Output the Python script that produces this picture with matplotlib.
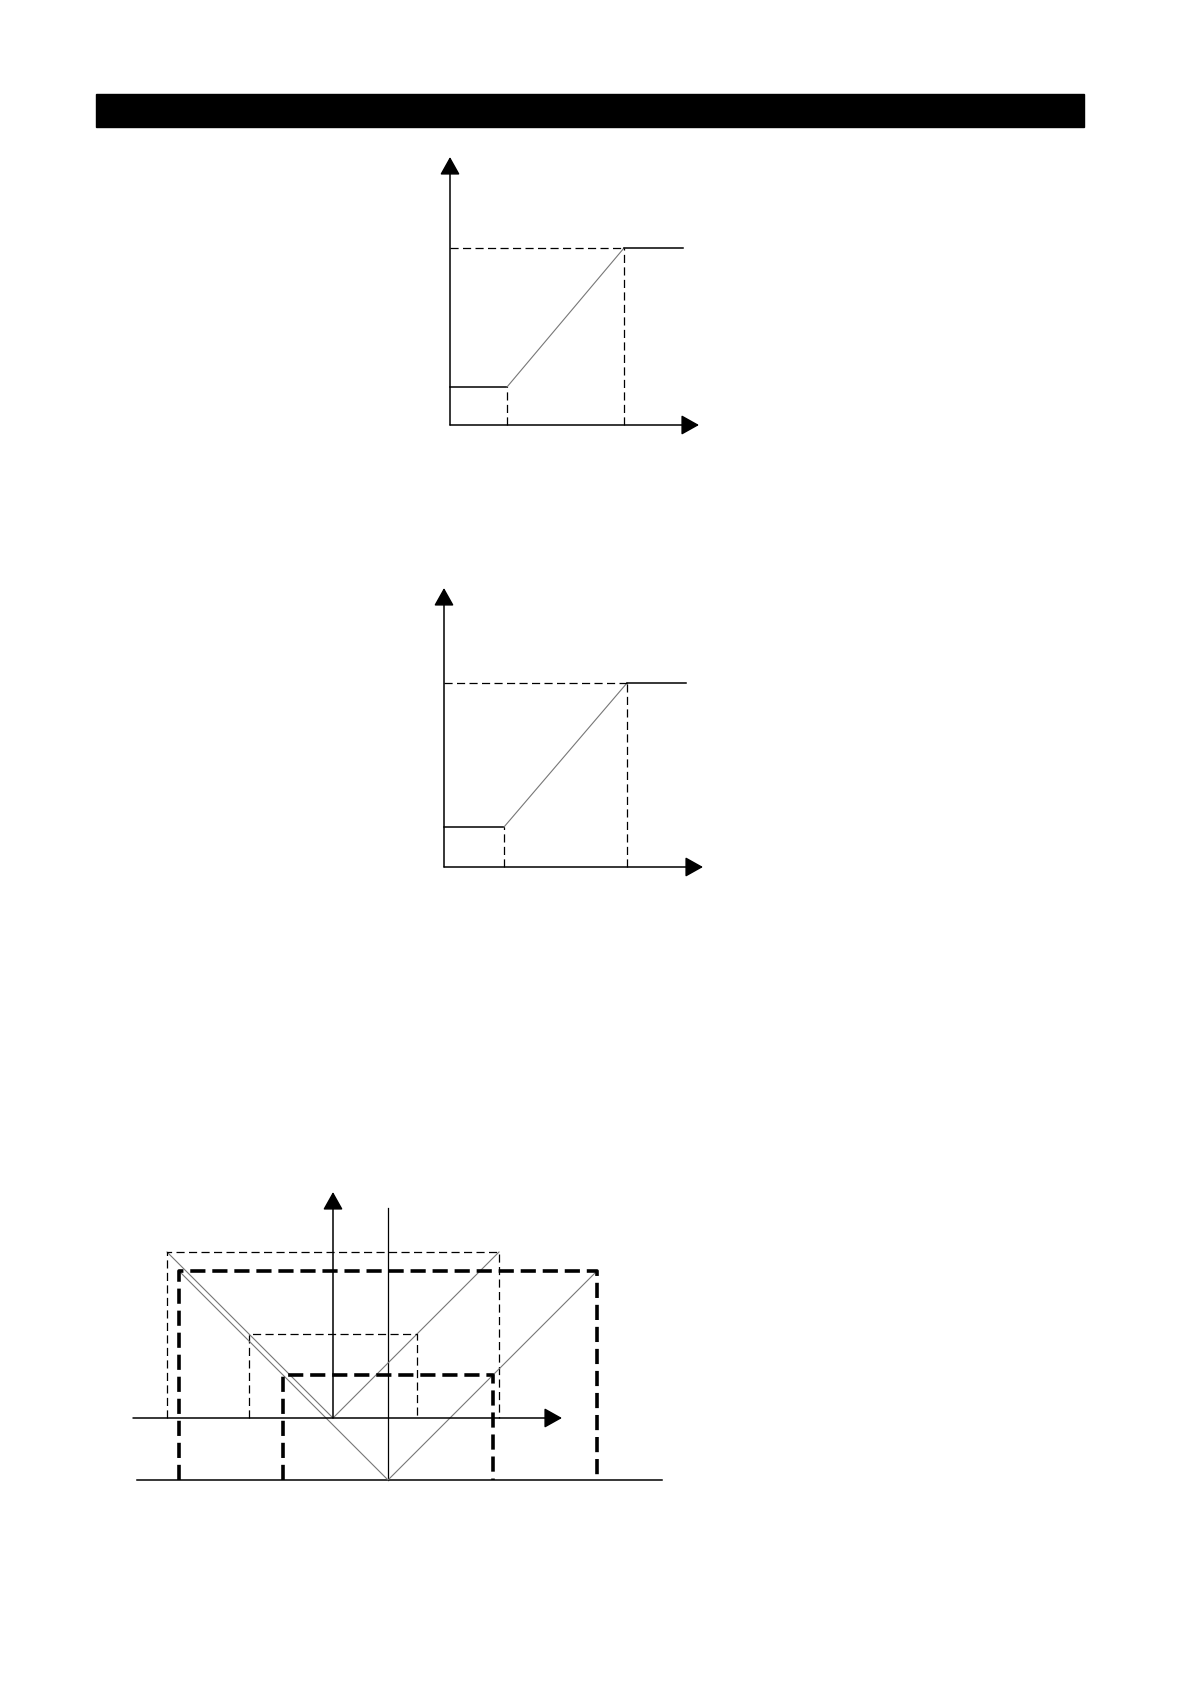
import matplotlib
matplotlib.use("Agg")
import matplotlib.pyplot as plt
from matplotlib.patches import Rectangle

W, H = 1190, 1684

# ---------------------------------------------------------
# Diagram values (diagram units, origin at the axes cross)
# ---------------------------------------------------------
# upper ramp diagram
d1_origin = (450, 425)
d1_x = [57, 174, 233]        # low corner, high corner, end of top level
d1_y = [38, 177]             # low level, high level
d1_arrow = (249, 268)        # x-axis tip, y-axis tip

# middle ramp diagram
d2_origin = (444, 867)
d2_x = [60, 183, 242]
d2_y = [40, 184]
d2_arrow = (259, 279)

# bottom V diagram
d3_origin = (333, 1418)
v1_vertex = (0, 0)
v1_half = [84, 166]           # inner / outer half widths of thin V
v2_vertex = (55, -62)
v2_half = [105, 209]          # inner / outer half widths of thick V
d3_xaxis = (-200, 229)
d3_yaxis_top = 226
d3_base = (-196, 329)
d3_vline_top = 210

bar_box = (96, 94, 1084, 127)


def place(fig, origin, xlim, ylim):
    ox, oy = origin
    ax = fig.add_axes([(ox + xlim[0]) / W, (H - (oy - ylim[0])) / H,
                       (xlim[1] - xlim[0]) / W, (ylim[1] - ylim[0]) / H])
    ax.set_xlim(*xlim)
    ax.set_ylim(*ylim)
    ax.axis('off')
    return ax


def arrow(ax, start, tip):
    ax.annotate('', xy=tip, xytext=start,
                arrowprops=dict(arrowstyle='-|>,head_length=0.5,head_width=0.28',
                                color='black', lw=1.1,
                                mutation_scale=22, shrinkA=0, shrinkB=0))


thin_dash = dict(color='black', lw=0.9, dashes=(6.5, 3.5))
thick_dash = dict(color='black', lw=2.6, dashes=(4.2, 1.9))
ramp = dict(color='#777777', lw=0.8)


def ramp_diagram(ax, xs, ys, tips):
    x_lo, x_hi, x_end = xs
    y_lo, y_hi = ys
    arrow(ax, (0, 0), (tips[0], 0))
    arrow(ax, (0, 0), (0, tips[1]))
    ax.plot([0, x_lo], [y_lo, y_lo], color='black', lw=1.1)
    ax.plot([x_lo, x_hi], [y_lo, y_hi], **ramp)
    ax.plot([x_hi, x_end], [y_hi, y_hi], color='black', lw=1.1)
    ax.plot([0, x_hi], [y_hi, y_hi], **thin_dash)
    ax.plot([x_lo, x_lo], [0, y_lo], **thin_dash)
    ax.plot([x_hi, x_hi], [0, y_hi], **thin_dash)


fig = plt.figure(figsize=(W / 100, H / 100), dpi=100)
fig.patches.append(Rectangle((bar_box[0] / W, 1 - bar_box[3] / H),
                             (bar_box[2] - bar_box[0]) / W,
                             (bar_box[3] - bar_box[1]) / H,
                             transform=fig.transFigure, color='black'))

ax1 = place(fig, d1_origin, (-10, 270), (-15, 285))
ramp_diagram(ax1, d1_x, d1_y, d1_arrow)

ax2 = place(fig, d2_origin, (-10, 280), (-15, 295))
ramp_diagram(ax2, d2_x, d2_y, d2_arrow)

# bottom diagram
ax3 = place(fig, d3_origin, (-220, 350), (-80, 245))
arrow(ax3, (d3_xaxis[0], 0), (d3_xaxis[1], 0))
arrow(ax3, (0, 0), (0, d3_yaxis_top))
ax3.plot(list(d3_base), [v2_vertex[1]] * 2, color='black', lw=1.1)
ax3.plot([v2_vertex[0]] * 2, [v2_vertex[1], d3_vline_top], color='black', lw=0.9)

# thin V and its thin dashed boxes
vx, vy = v1_vertex
out = v1_half[1]
ax3.plot([vx - out, vx, vx + out], [vy + out, vy, vy + out], **ramp)
for h in v1_half:
    ax3.plot([vx - h, vx - h, vx + h, vx + h], [0, vy + h, vy + h, 0], **thin_dash)

# thick V and its thick dashed boxes
vx, vy = v2_vertex
out = v2_half[1]
ax3.plot([vx - out, vx, vx + out], [vy + out, vy, vy + out], **ramp)
for h in v2_half:
    ax3.plot([vx - h, vx - h, vx + h, vx + h], [vy, vy + h, vy + h, vy], **thick_dash)

fig.savefig('out.png', dpi=100, facecolor='white')
